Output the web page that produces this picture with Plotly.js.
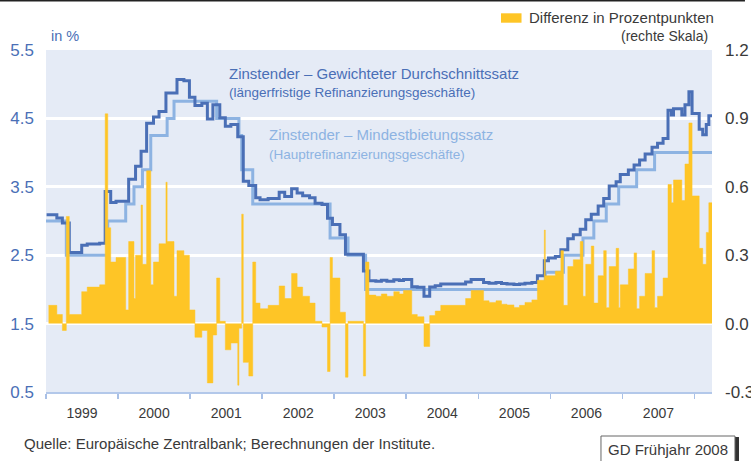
<!DOCTYPE html>
<html>
<head>
<meta charset="utf-8">
<script src="https://cdn.plot.ly/plotly-3.0.1.min.js"></script>
<style>
  html, body { margin: 0; padding: 0; background: #ffffff; }
  #chart { width: 751px; height: 461px; }
</style>
</head>
<body>
<div id="chart"></div>
<script>
// Mindestbietungssatz (Hauptrefinanzierungsgeschäfte), in %
const mroDates = ['1999-01-01','1999-04-14','1999-11-10','2000-02-09','2000-03-22','2000-05-04','2000-06-15','2000-09-06','2000-10-11','2001-05-15','2001-09-05','2001-09-19','2001-11-14','2002-12-11','2003-03-12','2003-06-09','2005-12-06','2006-03-08','2006-06-15','2006-08-09','2006-10-11','2006-12-13','2007-03-14','2007-06-13','2008-03-30'];
const mroRates = [3.0,2.5,3.0,3.25,3.5,3.75,4.25,4.5,4.75,4.5,4.25,3.75,3.25,2.75,2.5,2.0,2.25,2.5,2.75,3.0,3.25,3.5,3.75,4.0,4.0];

// Gewichteter Durchschnittssatz (längerfristige Refinanzierungsgeschäfte), in %
const ltroDates = ['1999-01-04','1999-02-25','1999-03-25','1999-04-29','1999-07-01','1999-07-29','1999-09-30','1999-10-28','1999-11-25','1999-12-22',
  '2000-02-24','2000-03-30','2000-04-27','2000-05-25','2000-06-29','2000-07-27','2000-08-31','2000-10-26','2000-11-30','2000-12-28',
  '2001-01-25','2001-03-01','2001-03-29','2001-04-26','2001-05-31','2001-06-28','2001-07-26','2001-08-30','2001-09-27','2001-10-25','2001-11-29','2001-12-21',
  '2002-01-31','2002-03-28','2002-04-25','2002-05-30','2002-06-27','2002-07-25','2002-08-29','2002-09-26','2002-10-31','2002-11-28','2002-12-23',
  '2003-01-30','2003-02-27','2003-05-29','2003-06-26','2003-07-31','2003-08-28','2003-09-25','2003-10-30','2003-11-27','2003-12-18',
  '2004-01-29','2004-02-26','2004-03-31','2004-04-29','2004-05-27','2004-06-24','2004-10-28','2004-11-25',
  '2005-01-27','2005-02-24','2005-03-31','2005-04-28','2005-05-26','2005-06-30','2005-07-28','2005-08-25','2005-09-29','2005-10-27','2005-12-01','2005-12-22',
  '2006-01-26','2006-02-23','2006-03-30','2006-04-27','2006-06-01','2006-06-29','2006-07-27','2006-08-31','2006-09-28','2006-10-26','2006-11-30','2006-12-21',
  '2007-01-31','2007-03-01','2007-03-29','2007-04-26','2007-05-31','2007-06-28','2007-07-26','2007-08-20','2007-09-06','2007-09-17','2007-10-29','2007-11-14','2007-12-04','2007-12-20',
  '2008-01-25','2008-02-12','2008-03-01','2008-03-14','2008-03-30'];
const ltroRates = [3.09,3.045,2.97,2.54,2.645,2.665,2.675,3.43,3.27,3.29,
  3.61,3.80,4.02,4.43,4.52,4.60,4.87,5.07,5.05,4.81,
  4.69,4.72,4.49,4.70,4.51,4.385,4.41,4.23,3.58,3.52,3.34,3.31,
  3.33,3.42,3.36,3.47,3.41,3.37,3.34,3.26,3.24,3.04,2.95,
  2.80,2.515,2.27,2.125,2.12,2.135,2.12,2.14,2.13,2.145,
  2.04,2.03,1.90,2.035,2.055,2.08,2.11,2.145,
  2.10,2.09,2.10,2.085,2.08,2.07,2.08,2.09,2.10,2.20,2.42,2.46,
  2.48,2.58,2.74,2.80,2.88,3.02,3.10,3.22,3.33,3.51,3.575,3.68,
  3.745,3.82,3.89,3.98,4.08,4.135,4.205,4.62,4.55,4.64,4.55,4.70,4.89,4.57,
  4.34,4.26,4.41,4.54,4.54];

// Differenz in Prozentpunkten (rechte Skala)
const diffDates = ['1999-01-14','1999-02-25','1999-03-25','1999-04-14','1999-04-29','1999-07-01','1999-07-29','1999-09-30','1999-10-28','1999-11-10','1999-11-25','1999-12-22',
  '2000-02-09','2000-02-24','2000-03-22','2000-03-30','2000-04-27','2000-05-04','2000-05-25','2000-06-15','2000-06-29','2000-07-27','2000-08-31','2000-09-06','2000-10-11','2000-10-26','2000-11-30','2000-12-28',
  '2001-01-25','2001-03-01','2001-03-29','2001-04-26','2001-05-15','2001-05-31','2001-06-28','2001-07-26','2001-08-30','2001-09-05','2001-09-19','2001-09-27','2001-10-25','2001-11-14','2001-11-29','2001-12-21',
  '2002-01-31','2002-03-28','2002-04-25','2002-05-30','2002-06-27','2002-07-25','2002-08-29','2002-09-26','2002-10-31','2002-11-28','2002-12-11','2002-12-23',
  '2003-01-30','2003-02-27','2003-03-12','2003-05-29','2003-06-09','2003-06-26','2003-07-31','2003-08-28','2003-09-25','2003-10-30','2003-11-27','2003-12-18',
  '2004-01-29','2004-02-26','2004-03-31','2004-04-29','2004-05-27','2004-06-24','2004-10-28','2004-11-25',
  '2005-01-27','2005-02-24','2005-03-31','2005-04-28','2005-05-26','2005-06-30','2005-07-28','2005-08-25','2005-09-29','2005-10-27','2005-12-01','2005-12-06',
  '2006-01-26','2006-02-23','2006-03-08','2006-03-30','2006-04-27','2006-06-01','2006-06-15','2006-06-29','2006-07-27','2006-08-09','2006-08-31','2006-09-28','2006-10-11','2006-10-26','2006-11-30','2006-12-13','2006-12-21',
  '2007-01-31','2007-03-01','2007-03-14','2007-03-29','2007-04-26','2007-05-31','2007-06-13','2007-06-28','2007-07-26','2007-08-20','2007-09-06','2007-09-17','2007-10-29','2007-11-14','2007-12-04','2007-12-20',
  '2008-01-25','2008-02-12','2008-03-01','2008-03-14','2008-03-30'];
const diffValues = [0.08,0.04,-0.03,0.47,0.04,0.14,0.16,0.17,0.92,0.42,0.27,0.29,
  0.06,0.36,0.11,0.30,0.52,0.26,0.67,0.17,0.27,0.35,0.62,0.36,0.12,0.32,0.30,0.06,
  -0.06,-0.03,-0.26,-0.05,0.20,0.01,-0.115,-0.085,-0.27,-0.02,0.48,-0.17,-0.23,0.27,0.09,0.065,
  0.08,0.165,0.11,0.22,0.16,0.12,0.09,0.01,-0.015,-0.21,0.29,0.20,
  0.05,-0.235,0.01,-0.23,0.27,0.125,0.12,0.13,0.12,0.14,0.13,0.145,
  0.04,0.03,-0.10,0.035,0.055,0.08,0.11,0.145,
  0.10,0.093,0.10,0.085,0.082,0.071,0.08,0.093,0.104,0.19,0.41,0.21,
  0.23,0.32,0.08,0.25,0.28,0.36,0.12,0.26,0.34,0.09,0.21,0.32,0.07,0.25,0.33,0.07,0.17,
  0.24,0.31,0.065,0.12,0.22,0.32,0.07,0.12,0.20,0.61,0.53,0.63,0.54,0.70,0.88,0.56,
  0.33,0.26,0.40,0.53,0.53];

// Axis tick labels
const leftTicks = [0.5,1.5,2.5,3.5,4.5,5.5];
const leftTickText = ['0.5','1.5','2.5','3.5','4.5','5.5'];
const rightTicks = [-0.3,0.0,0.3,0.6,0.9,1.2];
const rightTickText = ['-0.3','0.0','0.3','0.6','0.9','1.2'];

const FONT = 'Liberation Sans, Arial, Helvetica, sans-serif';
const BLUE = '#4a6fb6';
const LIGHTBLUE = '#8db3e2';
const GOLD = '#fec526';
const TEXTGRAY = '#3a3a3a';

const traces = [
  { x: mroDates, y: mroRates, type: 'scatter', mode: 'lines', line: {shape: 'hv', color: LIGHTBLUE, width: 3}, hoverinfo: 'skip' },
  { x: ltroDates, y: ltroRates, type: 'scatter', mode: 'lines', line: {shape: 'hv', color: BLUE, width: 3}, hoverinfo: 'skip' },
  { x: diffDates, y: diffValues, yaxis: 'y2', type: 'scatter', mode: 'lines', line: {shape: 'hv', color: GOLD, width: 0.5}, fill: 'tozeroy', fillcolor: GOLD, hoverinfo: 'skip' }
];

const layout = {
  width: 751, height: 461,
  margin: {l: 46, r: 39, t: 50, b: 69, pad: 0},
  paper_bgcolor: '#ffffff',
  plot_bgcolor: '#e5ebf6',
  showlegend: false,
  font: {family: FONT, color: TEXTGRAY},
  xaxis: {
    type: 'date', range: ['1999-01-01', '2008-03-30'],
    tick0: '1999-01-01', dtick: 'M12', ticklabelmode: 'period', tickformat: '%Y',
    ticks: 'outside', ticklen: 5, tickwidth: 1.5, tickcolor: '#a9c0e6',
    showline: true, linecolor: '#b3c8ea', linewidth: 2,
    showgrid: false, zeroline: false,
    tickfont: {size: 14, color: TEXTGRAY, family: FONT},
    ticklabelstandoff: 2
  },
  yaxis: {
    range: [0.5, 5.5], tickvals: leftTicks, ticktext: leftTickText,
    showgrid: true, gridcolor: '#ffffff', gridwidth: 3,
    zeroline: false, ticks: '', showline: false,
    tickfont: {size: 17, color: BLUE, family: FONT},
    ticklabelstandoff: 11
  },
  yaxis2: {
    overlaying: 'y', side: 'right', range: [-0.3, 1.2],
    tickvals: rightTicks, ticktext: rightTickText,
    showgrid: false, zeroline: false, ticks: '', showline: false,
    tickfont: {size: 17, color: TEXTGRAY, family: FONT},
    ticklabelstandoff: 12
  },
  shapes: [
    {type: 'line', xref: 'paper', yref: 'paper', x0: -0.0691, x1: 1.0495, y0: 1.1447, y1: 1.1447, line: {color: '#222222', width: 2}},
    {type: 'rect', xref: 'paper', yref: 'paper', x0: 0.6832, x1: 0.7140, y0: 1.0798, y1: 1.1073, fillcolor: GOLD, line: {width: 0}},
    {type: 'rect', xref: 'paper', yref: 'paper', x0: 1.0345, x1: 1.0405, y0: -0.1316, y1: -0.2100, fillcolor: '#333333', line: {width: 0}},
    {type: 'rect', xref: 'paper', yref: 'paper', x0: 0.8333, x1: 1.0345, y0: -0.1287, y1: -0.2100, fillcolor: '#ffffff', line: {color: '#666666', width: 1}}
  ],
  annotations: [
    {text: 'in %', xref: 'paper', yref: 'paper', x: 0.0045, y: 1.041, xanchor: 'left', yanchor: 'middle', showarrow: false, font: {size: 14.5, color: BLUE, family: FONT}},
    {text: 'Differenz in Prozentpunkten', xref: 'paper', yref: 'paper', x: 0.7222, y: 1.0936, xanchor: 'left', yanchor: 'middle', showarrow: false, font: {size: 15, color: TEXTGRAY, family: FONT}},
    {text: '(rechte Skala)', xref: 'paper', yref: 'paper', x: 0.997, y: 1.041, xanchor: 'right', yanchor: 'middle', showarrow: false, font: {size: 14, color: TEXTGRAY, family: FONT}},
    {text: 'Zinstender – Gewichteter Durchschnittssatz', xref: 'paper', yref: 'paper', x: 0.2718, y: 0.9313, xanchor: 'left', yanchor: 'middle', showarrow: false, font: {size: 15, color: BLUE, family: FONT}},
    {text: '(längerfristige Refinanzierungsgeschäfte)', xref: 'paper', yref: 'paper', x: 0.2718, y: 0.8757, xanchor: 'left', yanchor: 'middle', showarrow: false, font: {size: 13.5, color: BLUE, family: FONT}},
    {text: 'Zinstender – Mindestbietungssatz', xref: 'paper', yref: 'paper', x: 0.3318, y: 0.7515, xanchor: 'left', yanchor: 'middle', showarrow: false, font: {size: 15, color: LIGHTBLUE, family: FONT}},
    {text: '(Hauptrefinanzierungsgeschäfte)', xref: 'paper', yref: 'paper', x: 0.3318, y: 0.6959, xanchor: 'left', yanchor: 'middle', showarrow: false, font: {size: 13.5, color: LIGHTBLUE, family: FONT}},
    {text: 'Quelle: Europäische Zentralbank; Berechnungen der Institute.', xref: 'paper', yref: 'paper', x: -0.036, y: -0.1506, xanchor: 'left', yanchor: 'middle', showarrow: false, font: {size: 15, color: TEXTGRAY, family: FONT}},
    {text: 'GD Frühjahr 2008', xref: 'paper', yref: 'paper', x: 0.9339, y: -0.1667, xanchor: 'center', yanchor: 'middle', showarrow: false, font: {size: 15, color: TEXTGRAY, family: FONT}}
  ]
};

Plotly.newPlot('chart', traces, layout, {staticPlot: true, displayModeBar: false});
</script>
</body>
</html>
